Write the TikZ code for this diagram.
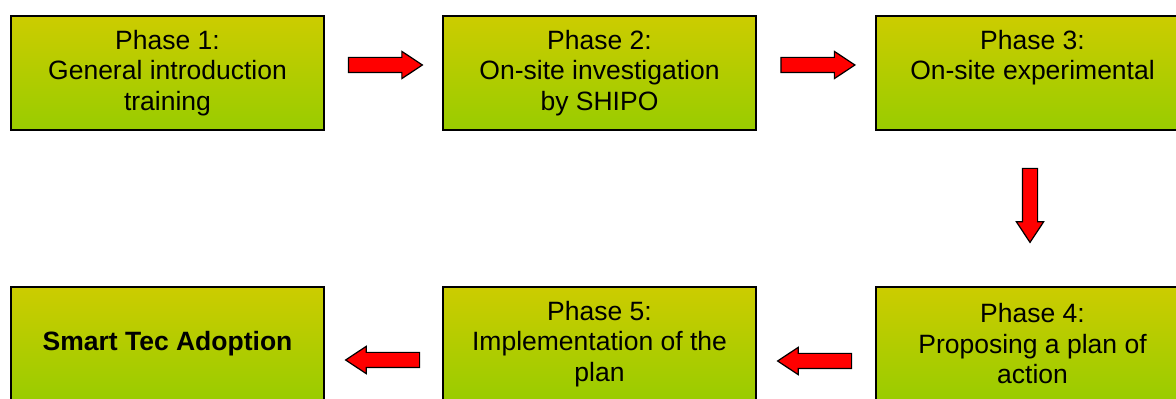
\documentclass[tikz,border=0pt]{standalone}
\usepackage{fontspec}
\setmainfont{Liberation Sans}
\usetikzlibrary{positioning,calc,shapes.arrows}
\definecolor{phtop}{HTML}{CCCC00}
\definecolor{phbot}{HTML}{99CC00}
\def\phfont{\fontsize{13.25}{15.25}\selectfont}
\tikzset{
  box/.style={draw,line width=0.8pt,top color=phtop,bottom color=phbot,
    minimum width=156.5pt,minimum height=57pt,font=\phfont},
  phase/.style={box,align=center},
  goal/.style={box,font=\phfont\bfseries},
  redarrow/.style={single arrow,draw,fill=red,line width=0.6pt,inner sep=0pt,
    text height=7pt,text depth=0pt,single arrow head extend=3pt,
    single arrow tip angle=67,minimum height=37pt,anchor=tail}
}
\begin{document}
\begin{tikzpicture}[x=0.5pt,y=-0.5pt]
  \useasboundingbox (0,0) rectangle (1176,399);
  \clip (0,0) rectangle (1176,399);
  % top row
  \node[phase] (b1) at (167.5,73) {Phase 1:\\General introduction\\training};
  \node[phase,right=58.7pt of b1] (b2) {Phase 2:\\On-site investigation\\by SHIPO};
  \node[phase,right=59.2pt of b2,text depth=18pt] (b3) {Phase 3:\\On-site experimental};
  % bottom row
  \node[phase,below=77.7pt of b3] (b4) {Phase 4:\\Proposing a plan of\\action};
  \node[phase,left=59.2pt of b4] (b5) {Phase 5:\\Implementation of the\\plan};
  \node[goal,left=58.7pt of b5] (b6) {Smart Tec Adoption};
  % arrows
  \node[redarrow] (a12) at ($(b1.east)+(23,-8)$) {};
  \node[redarrow] (a23) at ($(b2.east)+(23.5,-8)$) {};
  \node[redarrow,rotate=-90] (a34) at ($(b3.south)+(-2.5,37)$) {};
  \node[redarrow,rotate=180] (a45) at ($(b4.west)+(-23,17)$) {};
  \node[redarrow,rotate=180] (a56) at ($(b5.west)+(-22,16)$) {};
\end{tikzpicture}
\end{document}
